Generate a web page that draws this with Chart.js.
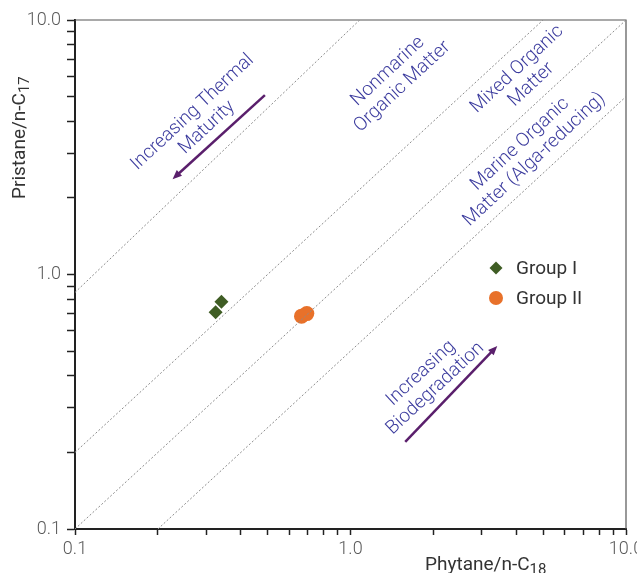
<!DOCTYPE html>
<html>
<head>
<meta charset="utf-8">
<script src="https://cdn.jsdelivr.net/npm/chart.js@4"></script>
<style>
  html, body { margin: 0; padding: 0; background: #fff; }
  #wrap { width: 637px; height: 573px; }
</style>
</head>
<body>
<div id="wrap"><canvas id="plot" width="637" height="573"></canvas></div>
<script>
// sample values
const groupIX = [0.324, 0.340];
const groupIY = [0.710, 0.782];
const groupIIX = [0.664, 0.694];
const groupIIY = [0.686, 0.702];

// dotted boundary lines (end points)
const line1X = [0.1, 1.08];
const line1Y = [0.85, 10];
const line2X = [0.1, 5];
const line2Y = [0.2, 10];
const line3X = [0.1, 10];
const line3Y = [0.1, 10];
const line4X = [0.2, 10];
const line4Y = [0.1, 5];

// axis ticks
const tickValues = [0.1, 0.2, 0.3, 0.4, 0.5, 0.6, 0.7, 0.8, 0.9,
                    1, 2, 3, 4, 5, 6, 7, 8, 9, 10];
const tickLabels = [0.1, 1, 10];

const FONT = 'Roboto, "Noto Sans", sans-serif';
const TEXT_BLUE = '#3c3c9e';
const ARROW = '#5a1f6c';

// notes placed in data coordinates
const notes = [
    { x: 0.2836, y: 4.05, lines: ['Increasing Thermal', 'Maturity'] },
    { x: 1.452, y: 5.86, lines: ['Nonmarine', 'Organic Matter'] },
    { x: 4.27, y: 5.97, lines: ['Mixed Organic', 'Matter'] },
    { x: 4.38, y: 3.03, lines: ['Marine Organic', 'Matter (Alga-reducing)'] },
    { x: 1.914, y: 0.382, lines: ['Increasing', 'Biodegradation'] }
];
const arrows = [
    { from: [0.489, 5.07], to: [0.226, 2.37] },
    { from: [1.58, 0.22], to: [3.41, 0.524] }
];

function toPoints(xs, ys) {
    return xs.map((x, i) => ({ x: x, y: ys[i] }));
}

function refLine(xs, ys) {
    return {
        type: 'line',
        data: toPoints(xs, ys),
        borderColor: '#8c8c8c',
        borderWidth: 1,
        borderDash: [2, 2],
        pointRadius: 0,
        fill: false,
        showLine: true
    };
}

const extras = {
    id: 'extras',
    beforeDatasetsDraw(chart) {
        const ctx = chart.ctx;
        const a = chart.chartArea;
        ctx.save();
        ctx.strokeStyle = '#555';
        ctx.lineWidth = 1.2;
        ctx.beginPath();
        ctx.moveTo(a.left, a.top);
        ctx.lineTo(a.right, a.top);
        ctx.lineTo(a.right, a.bottom);
        ctx.stroke();
        ctx.restore();
    },
    afterDatasetsDraw(chart) {
        const ctx = chart.ctx;
        const xs = chart.scales.x;
        const ys = chart.scales.y;
        const a = chart.chartArea;

        // rotated notes
        ctx.save();
        ctx.fillStyle = TEXT_BLUE;
        ctx.font = '300 19px ' + FONT;
        ctx.textAlign = 'center';
        ctx.textBaseline = 'middle';
        notes.forEach(n => {
            const px = xs.getPixelForValue(n.x);
            const py = ys.getPixelForValue(n.y);
            ctx.save();
            ctx.translate(px, py);
            ctx.rotate(-43 * Math.PI / 180);
            n.lines.forEach((t, i) => {
                ctx.fillText(t, 0, (i - (n.lines.length - 1) / 2) * 21);
            });
            ctx.restore();
        });
        ctx.restore();

        // arrows
        ctx.save();
        ctx.strokeStyle = ARROW;
        ctx.fillStyle = ARROW;
        ctx.lineWidth = 2.5;
        arrows.forEach(ar => {
            const x0 = xs.getPixelForValue(ar.from[0]);
            const y0 = ys.getPixelForValue(ar.from[1]);
            const x1 = xs.getPixelForValue(ar.to[0]);
            const y1 = ys.getPixelForValue(ar.to[1]);
            const ang = Math.atan2(y1 - y0, x1 - x0);
            const head = 10;
            ctx.beginPath();
            ctx.moveTo(x0, y0);
            ctx.lineTo(x1 - Math.cos(ang) * head * 0.8, y1 - Math.sin(ang) * head * 0.8);
            ctx.stroke();
            ctx.beginPath();
            ctx.moveTo(x1, y1);
            ctx.lineTo(x1 - head * Math.cos(ang - 0.4), y1 - head * Math.sin(ang - 0.4));
            ctx.lineTo(x1 - head * Math.cos(ang + 0.4), y1 - head * Math.sin(ang + 0.4));
            ctx.closePath();
            ctx.fill();
        });
        ctx.restore();

        // legend inside the plot
        ctx.save();
        const lx = a.left + 421;
        const ly = a.top + 248;
        chart.data.datasets.filter(d => d.inLegend).forEach((d, i) => {
            const cy = ly + i * 30;
            ctx.fillStyle = d.backgroundColor;
            ctx.beginPath();
            if (d.pointStyle === 'rectRot') {
                ctx.moveTo(lx, cy - 6.5);
                ctx.lineTo(lx + 6.5, cy);
                ctx.lineTo(lx, cy + 6.5);
                ctx.lineTo(lx - 6.5, cy);
                ctx.closePath();
            } else {
                ctx.arc(lx, cy, 7, 0, Math.PI * 2);
            }
            ctx.fill();
            ctx.fillStyle = '#333';
            ctx.font = '19px ' + FONT;
            ctx.textAlign = 'left';
            ctx.textBaseline = 'middle';
            ctx.fillText(d.label, lx + 20, cy + 1);
        });
        ctx.restore();
    },
    afterDraw(chart) {
        const ctx = chart.ctx;
        ctx.save();
        ctx.fillStyle = '#333';
        ctx.textBaseline = 'alphabetic';
        ctx.textAlign = 'left';

        // y title
        ctx.save();
        ctx.translate(25, 199);
        ctx.rotate(-Math.PI / 2);
        ctx.font = '19px ' + FONT;
        ctx.fillText('Pristane/n-C', 0, 0);
        let w = ctx.measureText('Pristane/n-C').width;
        ctx.font = '15px ' + FONT;
        ctx.fillText('17', w, 4);
        ctx.restore();

        // x title
        ctx.font = '19px ' + FONT;
        ctx.fillText('Phytane/n-C', 425, 570);
        w = ctx.measureText('Phytane/n-C').width;
        ctx.font = '15px ' + FONT;
        ctx.fillText('18', 425 + w, 574);
        ctx.restore();
    }
};

function logAxis(tickLen) {
    return {
        type: 'logarithmic',
        min: 0.1,
        max: 10,
        border: { display: true, color: '#222', width: 2 },
        grid: {
            drawOnChartArea: false,
            drawTicks: true,
            tickLength: tickLen,
            tickColor: '#222',
            tickWidth: 1.5
        },
        afterBuildTicks: function (scale) {
            scale.ticks = tickValues.map(v => ({ value: v, major: tickLabels.includes(v) }));
        },
        ticks: {
            autoSkip: false,
            maxRotation: 0,
            color: '#5a5a5a',
            font: { family: FONT, size: 18, weight: '300' },
            callback: function (value) {
                return tickLabels.includes(value) ? value.toFixed(1) : '';
            }
        }
    };
}

const xAxis = logAxis(6);
xAxis.ticks.padding = 4;
xAxis.afterFit = function (scale) {
    scale.height = 44;
    scale.paddingLeft = 0;
    scale.paddingRight = 0;
};
const yAxis = logAxis(8);
yAxis.ticks.padding = 6;
yAxis.afterFit = function (scale) {
    scale.width = 75;
    scale.paddingTop = 0;
    scale.paddingBottom = 0;
};

new Chart(document.getElementById('plot').getContext('2d'), {
    type: 'scatter',
    data: {
        datasets: [
            refLine(line1X, line1Y),
            refLine(line2X, line2Y),
            refLine(line3X, line3Y),
            refLine(line4X, line4Y),
            {
                label: 'Group I',
                inLegend: true,
                data: toPoints(groupIX, groupIY),
                pointStyle: 'rectRot',
                pointRadius: 7,
                backgroundColor: '#3f5d24',
                borderWidth: 0
            },
            {
                label: 'Group II',
                inLegend: true,
                data: toPoints(groupIIX, groupIIY),
                pointStyle: 'circle',
                pointRadius: 7.5,
                backgroundColor: '#e8712a',
                borderWidth: 0
            }
        ]
    },
    options: {
        responsive: false,
        animation: false,
        events: [],
        layout: { padding: { top: 20, right: 11, left: 0, bottom: 0 } },
        scales: { x: xAxis, y: yAxis },
        plugins: {
            legend: { display: false },
            tooltip: { enabled: false }
        }
    },
    plugins: [extras]
});
</script>
</body>
</html>
